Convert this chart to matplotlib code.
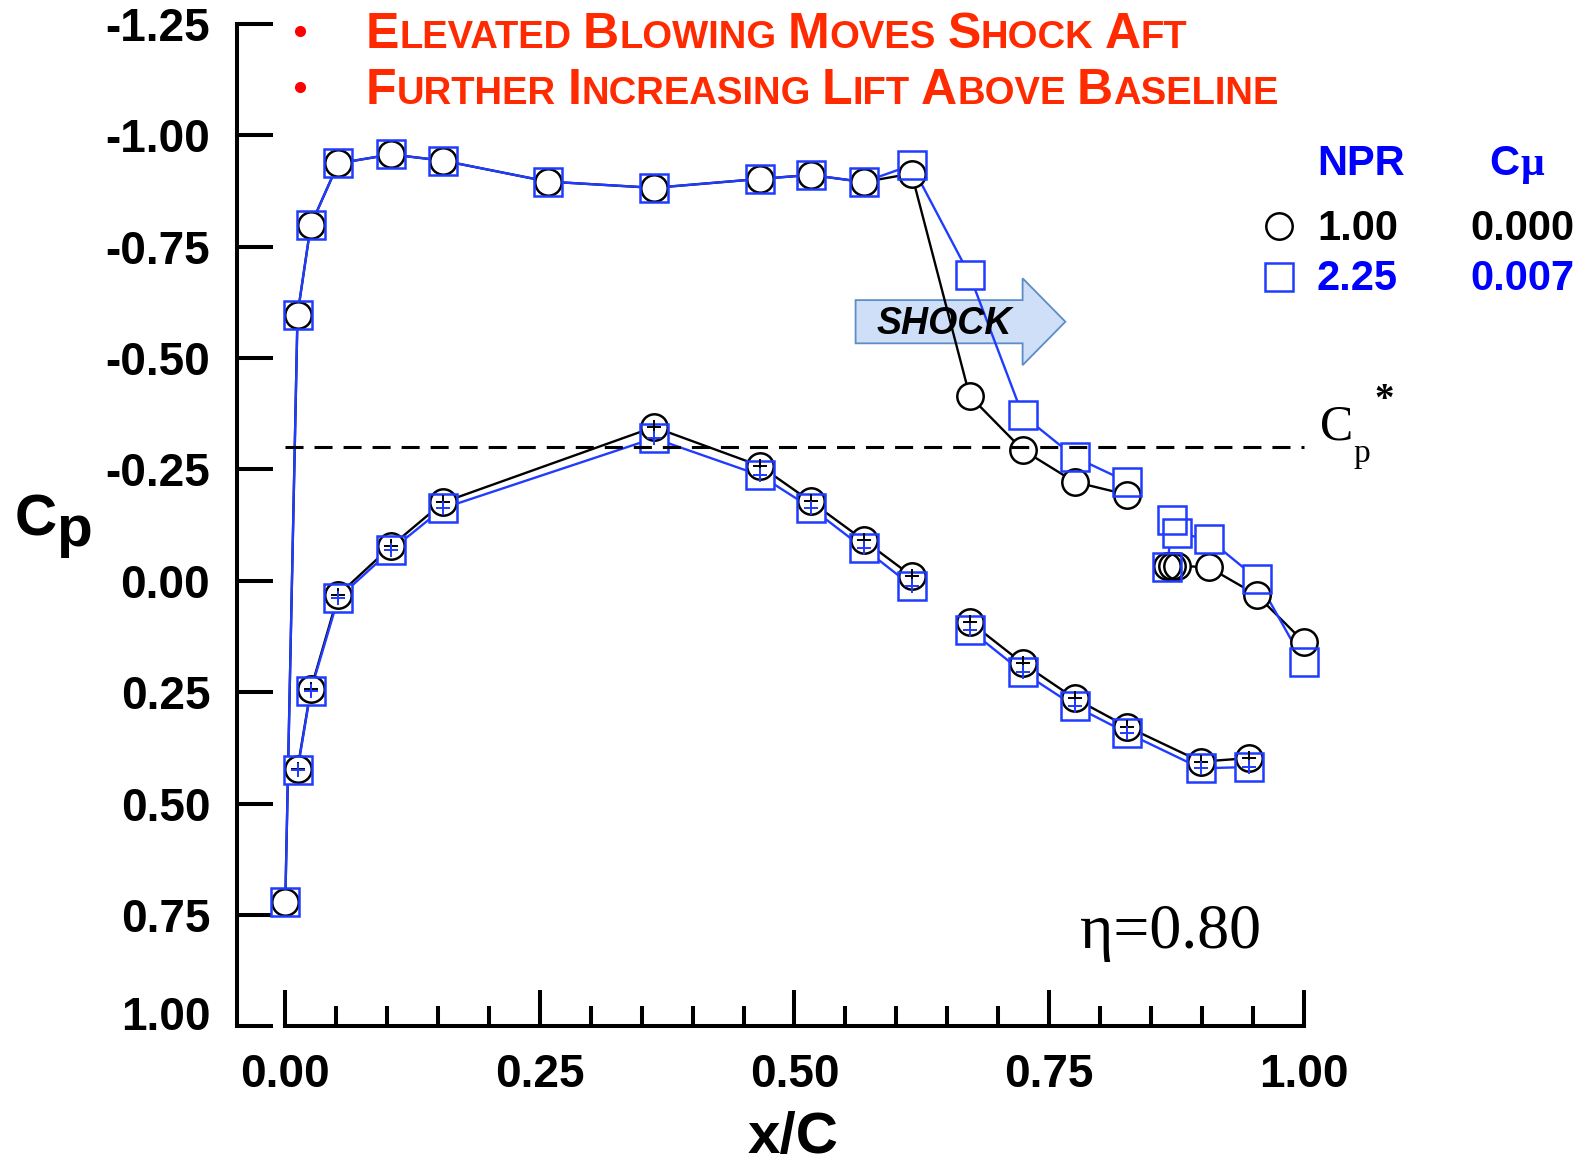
import matplotlib
matplotlib.use("Agg")
import matplotlib.pyplot as plt
from matplotlib.patches import Polygon
from matplotlib.lines import Line2D
from matplotlib.transforms import ScaledTranslation

# ---------------------------------------------------------------- data
# chordwise tap locations
x_upper = [0.000, 0.012, 0.025, 0.052, 0.104, 0.155, 0.258, 0.362, 0.466,
           0.516, 0.568, 0.615, 0.672, 0.724, 0.775, 0.827]
x_lower_fwd = [0.012, 0.025, 0.052, 0.104, 0.155, 0.362, 0.466, 0.516, 0.568, 0.615]
x_lower_aft = [0.672, 0.724, 0.775, 0.827, 0.899, 0.946]
x_te = [0.866, 0.871, 0.876, 0.907, 0.954, 1.000]

# NPR = 1.00, Cmu = 0.000 (baseline)
cp_upper_base = [0.722, -0.597, -0.798, -0.937, -0.957, -0.943, -0.896, -0.882, -0.902,
                 -0.911, -0.895, -0.914, -0.415, -0.294, -0.222, -0.193]
cp_lower_fwd_base = [0.422, 0.244, 0.032, -0.078, -0.176, -0.345, -0.258, -0.178, -0.091, -0.011]
cp_lower_aft_base = [0.092, 0.185, 0.264, 0.328, 0.406, 0.398]
cp_te_base = [-0.034, -0.034, -0.034, -0.030, 0.032, 0.137]

# NPR = 2.25, Cmu = 0.007 (elevated blowing)
cp_upper_blow = [0.722, -0.597, -0.798, -0.937, -0.957, -0.943, -0.896, -0.882, -0.902,
                 -0.911, -0.895, -0.933, -0.686, -0.372, -0.278, -0.222]
cp_lower_fwd_blow = [0.425, 0.247, 0.039, -0.069, -0.163, -0.320, -0.237, -0.164, -0.073, 0.011]
cp_lower_aft_blow = [0.110, 0.205, 0.281, 0.342, 0.421, 0.418]
cp_te_blow = [-0.030, -0.137, -0.107, -0.093, -0.005, 0.182]

cp_star = -0.30
eta = 0.80

legend_npr = ["1.00", "2.25"]
legend_cmu = ["0.000", "0.007"]

x_ticks = [0.00, 0.25, 0.50, 0.75, 1.00]
x_minor = [i * 0.05 for i in range(21)]
y_ticks = [-1.25, -1.00, -0.75, -0.50, -0.25, 0.00, 0.25, 0.50, 0.75, 1.00]

headline = ["Elevated Blowing Moves Shock Aft",
            "Further Increasing Lift Above Baseline"]

# ---------------------------------------------------------------- style
SANS = "Liberation Sans"
SERIF = "Liberation Serif"
plt.rcParams["font.family"] = [SANS, "DejaVu Sans"]
plt.rcParams["font.weight"] = "bold"

BLACK = "#000000"
BLUE_LINE = "#1f3cff"
BLUE_TEXT = "#0000ff"
RED = "#ff2a00"

W, H = 1592, 1162
fig = plt.figure(figsize=(W / 100, H / 100), dpi=100)


def fx(px):
    return px / W


def fy(py):
    return 1 - py / H


ax = fig.add_axes([fx(236.6), fy(1026.3), (1354.6 - 236.6) / W, (1026.3 - 23.9) / H])
ax.set_xlim(-0.0478, 1.05)
ax.set_ylim(1.0, -1.25)
ax.patch.set_alpha(0)

for s in ("top", "right"):
    ax.spines[s].set_visible(False)
for s in ("left", "bottom"):
    ax.spines[s].set_linewidth(2.9)
ax.spines["bottom"].set_bounds(0, 1)
ax.spines["left"].set_bounds(1.0, -1.25)

ax.set_xticks(x_ticks)
ax.set_xticklabels([f"{v:.2f}" for v in x_ticks])
ax.set_xticks(x_minor, minor=True)
ax.set_yticks(y_ticks)
ax.set_yticklabels([f"{v:.2f}".replace("\u2212", "-") for v in y_ticks])
ax.tick_params(axis="both", which="major", direction="in", length=26, width=2.9,
               pad=19, labelsize=33)
ax.tick_params(axis="x", which="minor", direction="in", length=14.4, width=2.9)
ax.tick_params(axis="y", which="minor", left=False)

# lift the bottom y label clear of the x axis line
last = ax.get_yticklabels()[-1]
last.set_transform(last.get_transform() + ScaledTranslation(0, 0.13, fig.dpi_scale_trans))

# ---------------------------------------------------------------- sonic line
ax.plot([0, 1], [cp_star, cp_star], color=BLACK, lw=2.2, ls=(0, (5.9, 3.6)), zorder=4.5)

# ---------------------------------------------------------------- shock arrow
bx0, bx1, tipx = 0.560, 0.724, 0.766
by0, by1, hy0, hy1 = -0.630, -0.533, -0.679, -0.484
arrow = Polygon([(bx0, by0), (bx1, by0), (bx1, hy0), (tipx, (by0 + by1) / 2),
                 (bx1, hy1), (bx1, by1), (bx0, by1)], closed=True,
                facecolor="#cfdff8", edgecolor="#5b8dc6", lw=1.3, zorder=1.5)
ax.add_patch(arrow)
ax.text(0.647, (by0 + by1) / 2 + 0.004, "SHOCK", fontsize=27, fontweight="bold", style="italic",
        ha="center", va="center", color=BLACK, zorder=6)

# ---------------------------------------------------------------- pressure data
segments_base = [(x_upper, cp_upper_base), (x_lower_fwd, cp_lower_fwd_base),
                 (x_lower_aft, cp_lower_aft_base), (x_te, cp_te_base)]
segments_blow = [(x_upper, cp_upper_blow), (x_lower_fwd, cp_lower_fwd_blow),
                 (x_lower_aft, cp_lower_aft_blow), (x_te, cp_te_blow)]

CIRC, SQ = 19, 20.5

for xs, ys in segments_base:
    ax.plot(xs, ys, color=BLACK, lw=1.7, zorder=2)
for xs, ys in segments_blow:
    ax.plot(xs, ys, color=BLUE_LINE, lw=1.7, zorder=2.1)

# lines stop at the symbols: white knock-out behind every symbol
for (xs, ys), mk, ms in [(s, "o", CIRC) for s in segments_base] + [(s, "s", SQ) for s in segments_blow]:
    ax.plot(xs, ys, ls="none", marker=mk, ms=ms, mfc="white", mec="none", zorder=3)

for xs, ys in segments_base:
    ax.plot(xs, ys, ls="none", marker="o", ms=CIRC, mfc="none", mec=BLACK, mew=1.8, zorder=4)
for xs, ys in segments_blow:
    ax.plot(xs, ys, ls="none", marker="s", ms=SQ, mfc="none", mec=BLUE_LINE, mew=1.8, zorder=4.1)

# lower-surface taps carry a cross inside the symbol
for xs, ys in segments_base[1:3]:
    ax.plot(xs, ys, ls="none", marker="+", ms=9.5, mew=1.4, color=BLACK, zorder=5)
for xs, ys in segments_blow[1:3]:
    ax.plot(xs, ys, ls="none", marker="+", ms=9.5, mew=1.4, color=BLUE_LINE, zorder=5.1)

# ---------------------------------------------------------------- axis titles
fig.text(fx(15), fy(535), "C", fontsize=42, fontweight="bold", va="baseline", ha="left")
fig.text(fx(56), fy(546), "p", fontsize=42, fontweight="bold", va="baseline", ha="left")
fig.text(fx(793), fy(1153), "x/C", fontsize=42, fontweight="bold", va="baseline", ha="center")

# Cp* label at the end of the sonic line
fig.text(fx(1320), fy(439), "C", fontsize=36, family=SERIF, fontweight="normal", va="baseline")
fig.text(fx(1353), fy(462), "p", fontsize=24, family=SERIF, fontweight="normal", va="baseline")
fig.text(fx(1374), fy(410), "*", fontsize=28, family=SERIF, fontweight="bold", va="baseline")

# station label
fig.text(fx(1080), fy(948), f"\u03b7={eta:.2f}", fontsize=46, family=SERIF,
         fontweight="normal", va="baseline")

# ---------------------------------------------------------------- legend
fig.text(fx(1317), fy(174.6), "NPR", fontsize=30, color=BLUE_TEXT, va="baseline")
fig.text(fx(1489), fy(174.6), "C", fontsize=30, color=BLUE_TEXT, va="baseline")
fig.text(fx(1520), fy(174.6), "\u03bc", fontsize=30, family=SERIF, color=BLUE_TEXT, va="baseline")

fig.add_artist(Line2D([fx(1279)], [fy(226)], transform=fig.transFigure, marker="o", ms=19,
                      mfc="none", mec=BLACK, mew=1.8))
fig.add_artist(Line2D([fx(1279)], [fy(277)], transform=fig.transFigure, marker="s", ms=19.5,
                      mfc="none", mec=BLUE_LINE, mew=1.8))
for row, (npr, cmu, col) in enumerate(zip(legend_npr, legend_cmu, [BLACK, BLUE_TEXT])):
    base = 239.6 + row * 50.8
    fig.text(fx(1317), fy(base), npr, fontsize=30, color=col, va="baseline")
    fig.text(fx(1470), fy(base), cmu, fontsize=30, color=col, va="baseline")

# ---------------------------------------------------------------- headline (small caps)
renderer = fig.canvas.get_renderer()


def small_caps(x_px, base_px, text, big, small, color):
    x = x_px
    for word in text.split(" "):
        for chunk, size in ((word[0].upper(), big), (word[1:].upper(), small)):
            if not chunk:
                continue
            t = fig.text(fx(x), fy(base_px), chunk, fontsize=size, color=color,
                         va="baseline", ha="left", fontweight="bold")
            x = t.get_window_extent(renderer).x1
        x += 0.30 * small * 100 / 72


for i, line in enumerate(headline):
    base = 47.5 + i * 56
    fig.add_artist(Line2D([fx(299.5)], [fy(base - 17)], transform=fig.transFigure,
                          marker="o", ms=8, mfc="#ff0000", mec="none"))
    small_caps(366, base, line, 36, 27.5, RED)

fig.savefig("out.png", dpi=100)
